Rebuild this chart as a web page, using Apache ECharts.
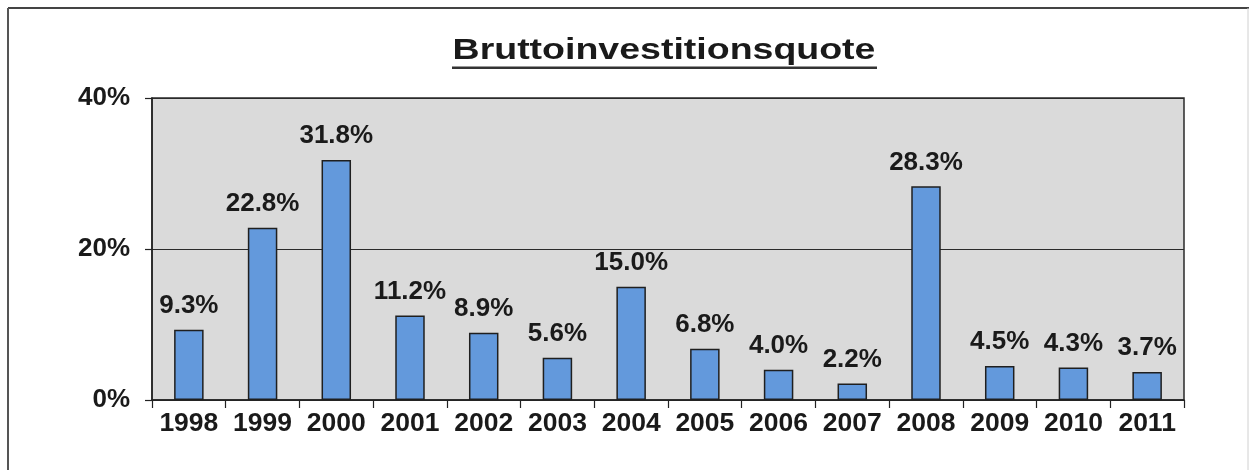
<!DOCTYPE html>
<html>
<head>
<meta charset="utf-8">
<script src="https://cdn.jsdelivr.net/npm/echarts@6/dist/echarts.min.js"></script>
<style>
html,body{margin:0;padding:0;background:#fff;}
#chart{width:1250px;height:470px;}
</style>
</head>
<body>
<div id="chart"></div>
<script>
const titleText = 'Bruttoinvestitionsquote';
const years = ['1998','1999','2000','2001','2002','2003','2004','2005','2006','2007','2008','2009','2010','2011'];
const quote = [9.3, 22.8, 31.8, 11.2, 8.9, 5.6, 15.0, 6.8, 4.0, 2.2, 28.3, 4.5, 4.3, 3.7];
const yTicks = [0, 20, 40];

const FONT = '"Liberation Sans", Arial, sans-serif';
const chart = echarts.init(document.getElementById('chart'), null, {renderer: 'canvas'});
chart.setOption({
  animation: false,
  backgroundColor: '#ffffff',
  graphic: [
    {type: 'line', shape: {x1: 8, y1: 8, x2: 1249, y2: 8}, style: {stroke: '#444', lineWidth: 2}},
    {type: 'line', shape: {x1: 8, y1: 8, x2: 8, y2: 470}, style: {stroke: '#555', lineWidth: 2}},
    {type: 'line', shape: {x1: 1248, y1: 8, x2: 1248, y2: 470}, style: {stroke: '#d0d0d0', lineWidth: 1}},
    {type: 'text', x: 664, y: 51, scaleX: 1.25, style: {text: titleText, textAlign: 'center', textVerticalAlign: 'middle', font: 'bold 30px ' + FONT, fill: '#1a1a1a'}},
    {type: 'rect', shape: {x: 452, y: 66.5, width: 425, height: 2.5}, style: {fill: '#333'}}
  ],
  grid: {
    left: 152, right: 66, top: 98, bottom: 70,
    show: true, backgroundColor: '#dadada', borderColor: '#2a2a2a', borderWidth: 1.5
  },
  xAxis: {
    type: 'category',
    data: years,
    axisLine: {lineStyle: {color: '#222', width: 1.5}},
    axisTick: {show: true, interval: 0, length: 8, lineStyle: {color: '#222', width: 1.2}},
    axisLabel: {interval: 0, fontSize: 26.5, fontWeight: 'bold', fontFamily: FONT, color: '#1a1a1a', margin: 10}
  },
  yAxis: {
    type: 'value',
    min: yTicks[0], max: yTicks[yTicks.length - 1], interval: yTicks[1] - yTicks[0],
    axisLine: {show: true, lineStyle: {color: '#222', width: 1.5}},
    axisTick: {show: true, length: 7, lineStyle: {color: '#222', width: 1.2}},
    splitLine: {show: true, lineStyle: {color: '#2a2a2a', width: 1.2}},
    axisLabel: {fontSize: 26, fontWeight: 'bold', fontFamily: FONT, color: '#1a1a1a', margin: 22, formatter: '{value}%'}
  },
  series: [{
    type: 'bar',
    data: quote,
    barWidth: '40%',
    itemStyle: {color: '#6399dc', borderColor: '#1f1f1f', borderWidth: 1.5},
    label: {
      show: true, position: 'top', distance: 11,
      fontSize: 26, fontWeight: 'bold', fontFamily: FONT, color: '#1a1a1a',
      formatter: p => p.value.toFixed(1) + '%'
    }
  }]
});
</script>
</body>
</html>
